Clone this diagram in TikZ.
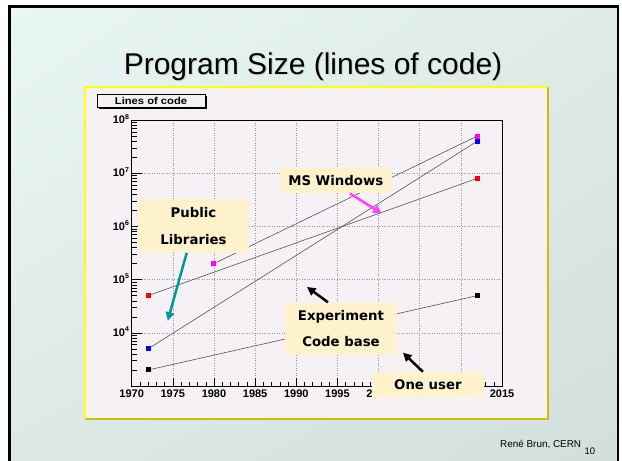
\documentclass[tikz,border=0pt]{standalone}
\usepackage{fontspec}
\setmainfont{Liberation Sans}
\newfontfamily\dvs{DejaVu Sans}
\usetikzlibrary{arrows.meta,shadings}
\definecolor{bgA}{RGB}{233,247,244}
\definecolor{bgB}{RGB}{222,235,231}
\definecolor{bgC}{RGB}{220,232,229}
\definecolor{bgD}{RGB}{210,222,219}
\definecolor{framefill}{RGB}{245,241,245}
\definecolor{frameY}{RGB}{255,255,0}
\definecolor{frameO}{RGB}{200,192,0}
\definecolor{notecol}{RGB}{253,242,204}
\definecolor{tealarr}{RGB}{0,153,153}
\definecolor{magarr}{RGB}{255,64,255}
\definecolor{magsq}{RGB}{255,0,255}
\definecolor{dlinec}{RGB}{85,85,85}
\definecolor{gridc}{RGB}{150,150,150}
\definecolor{shadowc}{RGB}{205,217,213}
\definecolor{lcfill}{RGB}{242,242,242}
\begin{document}
\begin{tikzpicture}[x=1pt,y=-1pt,
  sq/.style={rectangle, minimum size=5pt, inner sep=0pt, outer sep=0pt},
  dataline/.style={draw=dlinec, line width=0.6pt},
  gridline/.style={draw=gridc, line width=0.5pt, dash pattern=on 1pt off 1.5pt},
  tick/.style={line width=0.5pt, draw=black},
  axlab/.style={font=\bfseries\fontsize{11}{13}\selectfont, inner sep=0pt},
  note/.style={fill=notecol, font=\dvs\bfseries\fontsize{13.3}{26.7}\selectfont, align=center, inner sep=0pt},
  arr/.style={line width=2.5pt, -{Triangle[length=8.5pt,width=8.5pt]}},
]
\useasboundingbox (0,0) rectangle (622,461);
\fill[white] (0,0) rectangle (622,461);
\begin{scope}
  \clip (0,0) rectangle (622,461);
  \shade[upper left=bgA, upper right=bgB, lower left=bgC, lower right=bgD] (9.5,6.2) rectangle (618,480);
  \draw[line width=2.6pt] (9.5,6.2) rectangle (618,480);
\end{scope}

% title
\node[font=\fontsize{30}{36}\selectfont, text=shadowc, anchor=base, inner sep=0pt] (titlesh) at (314.3,75.3) {Program Size (lines of code)};
\node[font=\fontsize{30}{36}\selectfont, anchor=base, inner sep=0pt] (title) at (313,74) {Program Size (lines of code)};

% frame
\fill[framefill] (85,87) rectangle (548,419);
\draw[frameO, line width=2pt] (548,87) -- (548,419) -- (85,419);
\draw[frameY, line width=2pt] (85,419) -- (85,87) -- (548,87);

% Lines of code box
\fill[black] (98.5,95.5) rectangle (207,109);
\node[draw, fill=lcfill, minimum width=108pt, minimum height=13pt, inner sep=0pt, line width=0.5pt,
      font=\bfseries\fontsize{10}{12}\selectfont] (lc) at (151,100.5) {\scalebox{1.12}[1]{Lines of code}};

% plot
\begin{scope}[shift={(131.7,386)}, x=8.229pt, y=53.2pt]
  \foreach \yr in {5,10,...,40} \draw[gridline] (\yr,0) -- (\yr,5);
  \foreach \l in {1,...,4} \draw[gridline] (0,\l) -- (45,\l);
  \draw[line width=0.7pt] (0,0) rectangle (45,5);
  \foreach \d in {0,...,4} {
    \draw[tick] (0,\d) -- ++(10pt,0);
    \foreach \k in {2,...,9} \draw[tick] (0,{\d+log10(\k)}) -- ++(5pt,0);
  }
  \foreach \i in {1,...,44} \draw[tick] (\i,0) -- ++(0,4pt);
  \foreach \i in {5,10,...,40} \draw[tick] (\i,0) -- ++(0,8pt);
  \foreach \yr in {1970,1975,...,2015}
    \node[axlab, anchor=north, yshift=-4pt] (xl\yr) at ({\yr-1970},0) {\yr};
  \foreach \d in {4,...,8}
    \node[axlab, anchor=base east, xshift=-2.5pt, yshift=-3.6pt] (yl\d) at (0,{\d-3})
      {10\raisebox{4.5pt}{\fontsize{7}{8}\selectfont\d}};
  % data
  \node[sq, fill=black] (k1) at (2,0.301) {};
  \node[sq, fill=black] (k2) at (42,1.699) {};
  \node[sq, fill=red] (r1) at (2,1.699) {};
  \node[sq, fill=red] (r2) at (42,3.903) {};
  \node[sq, fill=magsq] (m1) at (10,2.301) {};
  \node[sq, fill=magsq] (m2) at (42,4.699) {};
  \node[sq, fill=blue] (b1) at (2,0.699) {};
  \node[sq, fill=blue] (b2) at (42,4.602) {};
  \draw[dataline] (k1) -- (k2);
  \draw[dataline] (r1) -- (r2);
  \draw[dataline] (m1) -- (m2);
  \draw[dataline] (b1) -- (b2);
\end{scope}

% notes
\node[note, minimum width=111.6pt, minimum height=53.4pt] (pub) at (193.5,226) {Public\\Libraries};
\node[note, minimum width=111.7pt, minimum height=25pt] (ms) at (335.8,180.8) {MS Windows};
\node[note, minimum width=112pt, minimum height=52pt] (exp) at (341,328.5) {Experiment\\Code base};
\node[note, minimum width=112.3pt, minimum height=25pt] (ou) at (427.9,384.5) {One user};

% arrows
\coordinate (pubtip) at (167.7,320.7);
\draw[arr, tealarr] ([xshift=-6.8pt]pub.south) -- (pubtip);
\coordinate (mstip) at (381.7,213.3);
\draw[arr, magarr] ([xshift=14.2pt]ms.south) -- (mstip);
\coordinate (exptip) at (307,287);
\draw[arr, black] ([xshift=-13pt]exp.north) -- (exptip);
\coordinate (outip) at (403,352.7);
\draw[arr, black] ([xshift=-5pt]ou.north) -- (outip);

% footer
\node[anchor=base west, inner sep=0pt, font=\fontsize{9.9}{12}\selectfont] (foot) at (500,447.7) {René Brun, CERN};
\node[anchor=base west, inner sep=0pt, font=\fontsize{9.5}{11}\selectfont] (pg) at (584.5,454.3) {10};
\end{tikzpicture}
\end{document}
